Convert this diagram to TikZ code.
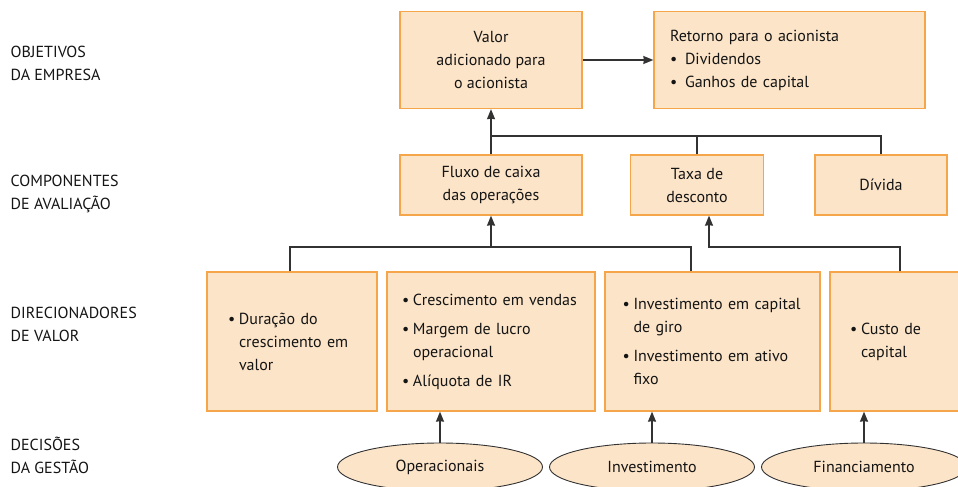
\documentclass[tikz,border=0pt]{standalone}
\usepackage{fontspec}
\setmainfont{PT Sans}
\usetikzlibrary{arrows.meta,shapes.geometric}
\definecolor{peach}{RGB}{252,228,200}
\definecolor{boxorange}{RGB}{245,166,75}
\definecolor{linegray}{RGB}{50,50,50}
\newcommand{\bul}{\makebox[11pt][l]{\textbullet}}
\newcommand{\cont}{\hspace*{11pt}}

\begin{document}
\begin{tikzpicture}[x=1pt, y=-1pt, linegray, line width=1.4pt,
    every node/.style={font=\fontsize{16}{23}\selectfont, text=black!92},
    box/.style={draw=boxorange, fill=peach, line width=1.3pt, inner sep=0pt},
    oval/.style={ellipse, draw=linegray, fill=peach, line width=0.9pt, inner sep=0pt,
                 minimum width=205pt, minimum height=48pt},
    arr/.style={-{Stealth[length=10pt,width=8pt,inset=0.5pt]}}]
    \useasboundingbox (0,0) rectangle (958,487);

    % left labels
    \node[anchor=west, align=left, inner sep=0pt] (lobj) at (10,63.5) {OBJETIVOS\\DA EMPRESA};
    \node[anchor=west, align=left, inner sep=0pt] (lcomp) at (10,193.5) {COMPONENTES\\DE AVALIAÇÃO};
    \node[anchor=west, align=left, inner sep=0pt] (ldir) at (10,324.5) {DIRECIONADORES\\DE VALOR};
    \node[anchor=west, align=left, inner sep=0pt] (ldec) at (10,455) {DECISÕES\\DA GESTÃO};

    % goals
    \node[box, align=center, minimum width=182pt, minimum height=97pt] (valor) at (491,60)
        {Valor\\adicionado para\\o acionista};
    \node[box, align=left, text width=239pt, inner xsep=16pt, minimum height=97pt] (retorno) at (789.5,60)
        {Retorno para o acionista\\\makebox[15pt][l]{\textbullet}Dividendos\\\makebox[15pt][l]{\textbullet}Ganhos de capital};

    % components
    \node[box, align=center, minimum width=182pt, minimum height=60pt] (fluxo) at (491,185)
        {Fluxo de caixa\\das operações};
    \node[box, align=center, minimum width=133pt, minimum height=60pt] (taxa) at (697,185)
        {Taxa de\\desconto};
    \node[box, align=center, minimum width=132pt, minimum height=60pt] (divida) at (881,185)
        {Dívida};

    % drivers
    \node[box, align=left, text width=128pt, minimum width=170pt, minimum height=139pt] (dur) at (292,341.5)
        {\bul Duração do\\\cont crescimento em\\\cont valor};
    \node[box, align=left, text width=178pt, minimum width=208pt, minimum height=139pt] (cres) at (491,341.5)
        {\bul Crescimento em vendas\\[6pt]\bul Margem de lucro\\\cont operacional\\[6pt]\bul Alíquota de IR};
    \node[box, align=left, text width=180pt, minimum width=215pt, minimum height=139pt] (inv) at (712.5,341.5)
        {\bul Investimento em capital\\\cont de giro\\[6pt]\bul Investimento em ativo\\\cont fixo};
    \node[box, align=left, text width=130pt, minimum width=170pt, minimum height=139pt] (custo) at (915,341.5)
        {\bul Custo de\\\cont capital};

    % decisions
    \node[oval] (oper) at (440,467) {Operacionais};
    \node[oval] (invest) at (652,467) {Investimento};
    \node[oval] (finan) at (864,467) {Financiamento};

    \coordinate (upbus) at (491,136);
    \coordinate (lowbus) at (491,247);
    \coordinate (rbus) at (709,247);

    \draw[arr] (valor) -- (retorno);
    \draw[arr] (fluxo) -- (valor);
    \draw (divida.north) |- (upbus);
    \draw (taxa.north) -- (taxa.north |- upbus);

    \draw[arr] ([xshift=-2pt]dur.north) |- (lowbus) -- (fluxo.south);
    \draw ([xshift=-21.5pt]inv.north) |- (lowbus);
    \draw[arr] ([xshift=-15pt]custo.north) |- (rbus) -- (rbus |- taxa.south);

    \draw[arr] (oper) -- (oper |- cres.south);
    \draw[arr] (invest) -- (invest |- inv.south);
    \draw[arr] (finan) -- (finan |- custo.south);
\end{tikzpicture}
\end{document}
